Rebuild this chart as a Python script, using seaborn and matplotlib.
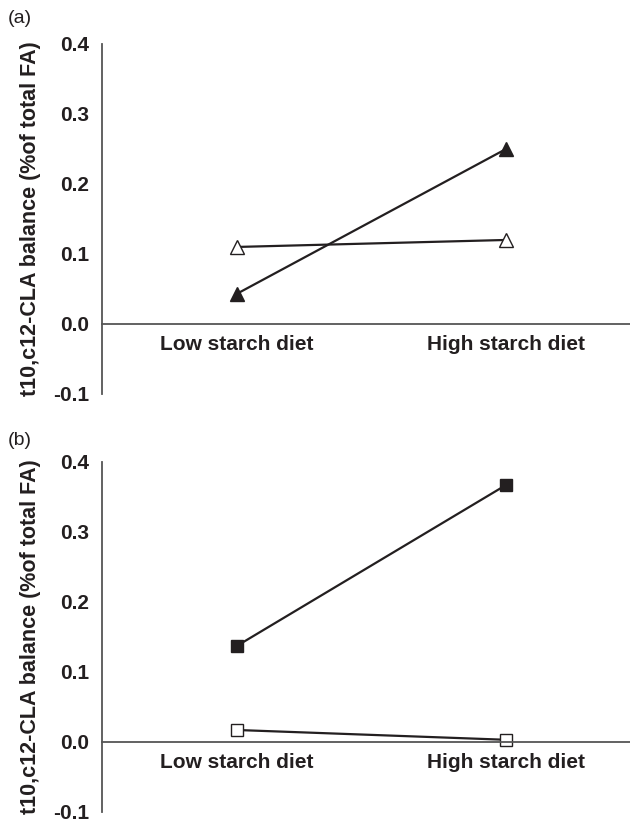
import pandas as pd
import matplotlib
matplotlib.use("Agg")
import matplotlib.pyplot as plt
import seaborn as sns

sns.set_style("white")
plt.rcParams["font.family"] = ["Liberation Sans", "DejaVu Sans"]

diets = ["Low starch diet", "High starch diet"]

# panel (a): triangles
a_filled = [0.043, 0.250]
a_open = [0.110, 0.120]
# panel (b): squares
b_filled = [0.137, 0.367]
b_open = [0.017, 0.003]

ylabel = "t10,c12-CLA balance (%of total FA)"
INK = "#231f20"
SPINE = "#555555"


def draw_panel(ax, filled, opened, marker, msize):
    sns.lineplot(x=diets, y=opened, ax=ax, color=INK, lw=1.6, marker=marker,
                 markersize=msize, markerfacecolor="white", markeredgecolor=INK,
                 markeredgewidth=1.0)
    sns.lineplot(x=diets, y=filled, ax=ax, color=INK, lw=1.6, marker=marker,
                 markersize=msize, markerfacecolor=INK, markeredgecolor=INK,
                 markeredgewidth=1.0)
    ax.set_xlim(-0.5, 1.46)
    ax.set_ylim(-0.1, 0.4)
    ax.set_yticks([-0.1, 0.0, 0.1, 0.2, 0.3, 0.4])
    ax.set_yticklabels(["-0.1", "0.0", "0.1", "0.2", "0.3", "0.4"])
    for s in ["top", "right"]:
        ax.spines[s].set_visible(False)
    ax.spines["bottom"].set_position(("data", 0))
    for s in ["left", "bottom"]:
        ax.spines[s].set_color(SPINE)
        ax.spines[s].set_linewidth(1.3)
    ax.tick_params(axis="both", length=0, labelsize=15, colors=INK)
    ax.tick_params(axis="y", pad=9)
    ax.tick_params(axis="x", pad=8)
    for lbl in ax.get_xticklabels() + ax.get_yticklabels():
        lbl.set_fontweight("bold")
    ax.set_xlabel("")
    ax.set_ylabel(ylabel, fontsize=15.5, fontweight="bold", color=INK, labelpad=9)


fig = plt.figure(figsize=(6.3, 8.23), dpi=100)
ax_a = fig.add_axes([0.162, 0.5213, 0.838, 0.4253])
ax_b = fig.add_axes([0.162, 0.0135, 0.838, 0.4253])

draw_panel(ax_a, a_filled, a_open, "^", 10)
draw_panel(ax_b, b_filled, b_open, "s", 8.5)

fig.text(0.013, 0.978, "(a)", fontsize=14, color=INK, va="center")
fig.text(0.013, 0.465, "(b)", fontsize=14, color=INK, va="center")

fig.savefig("out.png", dpi=100)
